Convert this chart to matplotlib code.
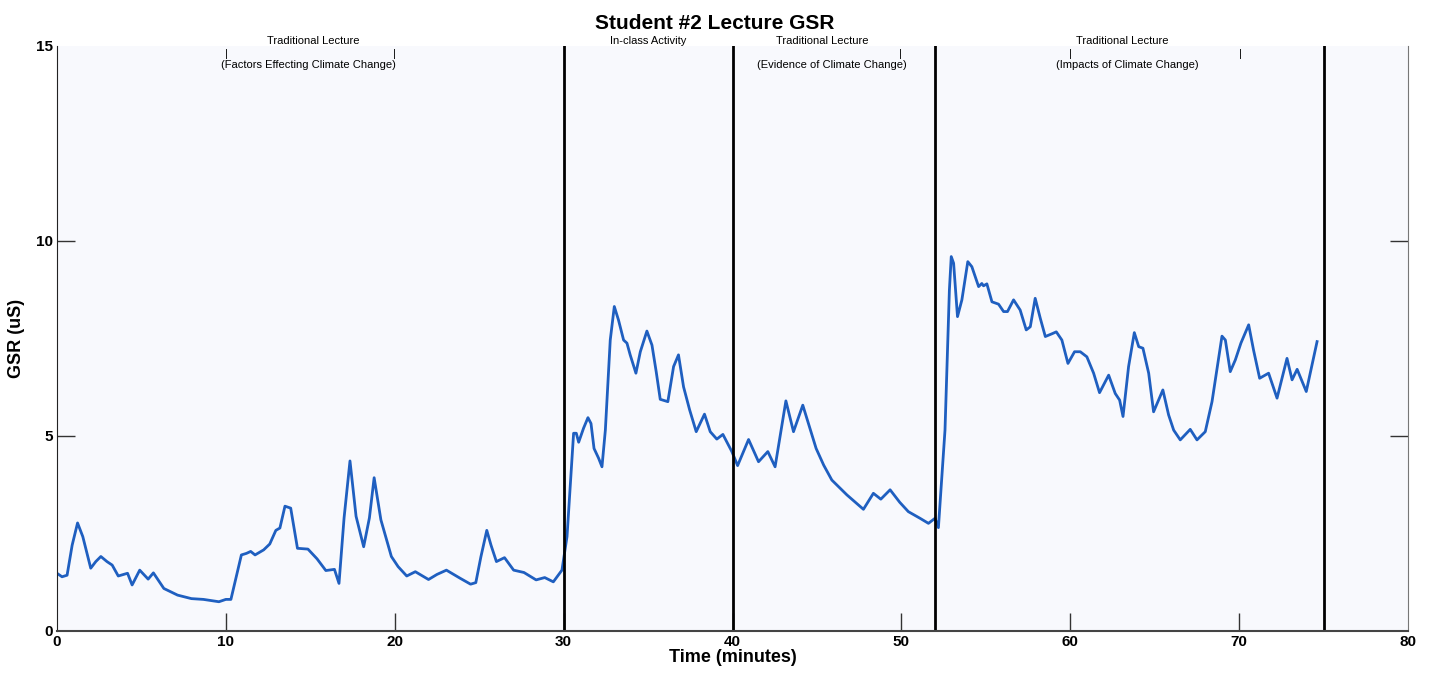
import matplotlib.pyplot as plt

plt.rcParams['font.family'] = ['Liberation Sans', 'DejaVu Sans']

# GSR trace, time in minutes and conductance in microsiemens
time_min = [0.0, 0.3, 0.6, 0.9, 1.22, 1.53, 2.0, 2.3, 2.6, 2.96, 3.27, 3.63, 4.18, 4.45, 4.9, 5.4, 5.71,
            6.33, 7.14, 7.96, 8.67, 9.59, 10.0, 10.3, 10.92, 11.22, 11.47, 11.73, 12.24, 12.6,
            12.96, 13.2, 13.5, 13.84, 14.24, 14.86, 15.4, 15.92, 16.43, 16.7, 17.0, 17.35, 17.71, 18.16,
            18.5, 18.78, 19.18, 19.8, 20.2, 20.71, 21.22, 22.0, 22.5, 23.06, 23.88, 24.49, 24.8, 25.1,
            25.45, 25.7, 26.02, 26.5, 27.04, 27.65, 28.37, 28.88, 29.39, 29.9,
            30.2, 30.59, 30.75, 30.89, 31.18, 31.44, 31.62, 31.8, 32.07, 32.27, 32.47, 32.76,
            33.0, 33.25, 33.55, 33.75, 33.94, 34.28, 34.54, 34.93, 35.23, 35.48, 35.72, 36.17,
            36.51, 36.8, 37.1, 37.46, 37.85, 38.34, 38.68, 39.07, 39.43, 39.96,
            40.3, 40.95, 41.54, 42.09, 42.52, 43.16, 43.61, 44.16, 44.95, 45.4, 45.88, 46.77, 47.75,
            48.34, 48.78, 49.33, 49.9, 50.41, 51.1, 51.6, 51.99, 52.19, 52.58, 52.84,
            52.95, 53.09, 53.32, 53.58, 53.93, 54.17, 54.57, 54.76, 54.86, 55.06, 55.36, 55.75,
            56.05, 56.28, 56.64, 57.03, 57.39, 57.63, 57.92, 58.22, 58.52, 58.91, 59.17, 59.5,
            59.86, 60.25, 60.59, 60.98, 61.38, 61.73, 62.27, 62.66, 62.92, 63.12, 63.45, 63.79,
            64.05, 64.3, 64.64, 64.93, 65.48, 65.82, 66.12, 66.51, 67.1, 67.5, 67.99, 68.39,
            68.98, 69.18, 69.47, 69.77, 70.1, 70.56, 70.85, 71.21, 71.74, 72.24, 72.83, 73.13,
            73.43, 73.97, 74.61]
gsr_us = [1.48, 1.39, 1.43, 2.2, 2.77, 2.42, 1.61, 1.78, 1.91, 1.78, 1.69, 1.41, 1.48, 1.18, 1.56, 1.33, 1.49,
          1.09, 0.92, 0.83, 0.81, 0.75, 0.81, 0.81, 1.95, 1.99, 2.04, 1.95, 2.08, 2.23,
          2.58, 2.64, 3.2, 3.15, 2.12, 2.10, 1.85, 1.55, 1.58, 1.22, 2.9, 4.36, 2.94, 2.16,
          2.9, 3.93, 2.85, 1.91, 1.65, 1.41, 1.52, 1.32, 1.45, 1.56, 1.35, 1.2, 1.24, 1.9,
          2.58, 2.2, 1.78, 1.88, 1.56, 1.5, 1.31, 1.37, 1.26, 1.56,
          2.42, 5.07, 5.07, 4.84, 5.2, 5.47, 5.32, 4.68, 4.43, 4.21, 5.15, 7.46,
          8.32, 7.97, 7.46, 7.38, 7.08, 6.61, 7.16, 7.69, 7.33, 6.65, 5.94, 5.88,
          6.78, 7.08, 6.26, 5.67, 5.11, 5.56, 5.11, 4.92, 5.04, 4.6,
          4.24, 4.91, 4.34, 4.6, 4.21, 5.9, 5.11, 5.79, 4.68, 4.25, 3.87, 3.49, 3.12,
          3.53, 3.38, 3.62, 3.3, 3.06, 2.89, 2.76, 2.89, 2.65, 5.15, 8.74,
          9.6, 9.43, 8.06, 8.49, 9.47, 9.34, 8.83, 8.91, 8.85, 8.9, 8.44, 8.38,
          8.19, 8.19, 8.49, 8.23, 7.72, 7.8, 8.53, 8.02, 7.55, 7.62, 7.67, 7.46,
          6.86, 7.16, 7.16, 7.03, 6.61, 6.11, 6.56, 6.09, 5.92, 5.5, 6.78, 7.65,
          7.29, 7.25, 6.61, 5.62, 6.18, 5.54, 5.15, 4.9, 5.17, 4.9, 5.11, 5.88,
          7.56, 7.46, 6.65, 6.95, 7.38, 7.85, 7.2, 6.48, 6.61, 5.97, 6.99, 6.44,
          6.71, 6.14, 7.42]

# lecture segment boundaries (minutes)
boundaries = [30, 40, 52, 75]

segment_titles = ['Traditional Lecture', 'In-class Activity', 'Traditional Lecture', 'Traditional Lecture']
segment_title_x = [15.2, 35.0, 45.3, 63.1]
segment_topics = ['(Factors Effecting Climate Change)', '', '(Evidence of Climate Change)',
                  '(Impacts of Climate Change)']
segment_topic_x = [14.9, 0, 45.9, 63.4]
pipe_x = [10.05, 20.0, 49.95, 60.0, 70.05]

fig = plt.figure(figsize=(14.31, 6.75), dpi=100)
ax = fig.add_axes([0.0398, 0.0652, 0.9442, 0.8667])
ax.set_facecolor('#f8f9fd')

ax.plot(time_min, gsr_us, color='#1f5fc0', lw=2.0)
for b in boundaries:
    ax.plot([b, b], [0, 15], color='black', lw=2)

ax.set_xlim(0, 80)
ax.set_ylim(0, 15)
ax.set_xticks(range(0, 81, 10))
ax.set_yticks([0, 5, 10, 15])
ax.tick_params(direction='in', length=13, width=1, right=True, labelsize=11, pad=3,
               color='#333333')
for lab in ax.get_xticklabels() + ax.get_yticklabels():
    lab.set_fontweight('bold')
# no tick marks at the ends of the axes
for tk in [ax.xaxis.get_major_ticks()[0], ax.xaxis.get_major_ticks()[-1],
           ax.yaxis.get_major_ticks()[0], ax.yaxis.get_major_ticks()[-1]]:
    tk.tick1line.set_visible(False)
    tk.tick2line.set_visible(False)

ax.spines['top'].set_visible(False)
ax.spines['left'].set_color('#222222')
ax.spines['bottom'].set_color('#444444')
ax.spines['right'].set_color('#777777')
ax.spines['bottom'].set_linewidth(1.5)

ax.set_xlabel('Time (minutes)', fontsize=13, fontweight='bold', labelpad=0)
ax.set_ylabel('GSR (uS)', fontsize=13, fontweight='bold', labelpad=8)
fig.text(0.4997, 0.965, 'Student #2 Lecture GSR', ha='center', va='center',
         fontsize=15, fontweight='bold')

for title, tx in zip(segment_titles, segment_title_x):
    ax.text(tx, 15.13, title, ha='center', va='center', fontsize=8)
for topic, tx in zip(segment_topics, segment_topic_x):
    if topic:
        ax.text(tx, 14.5, topic, ha='center', va='center', fontsize=8)
for px in pipe_x:
    ax.text(px, 14.8, '|', ha='center', va='center', fontsize=8)

fig.savefig('out.png', dpi=100)
